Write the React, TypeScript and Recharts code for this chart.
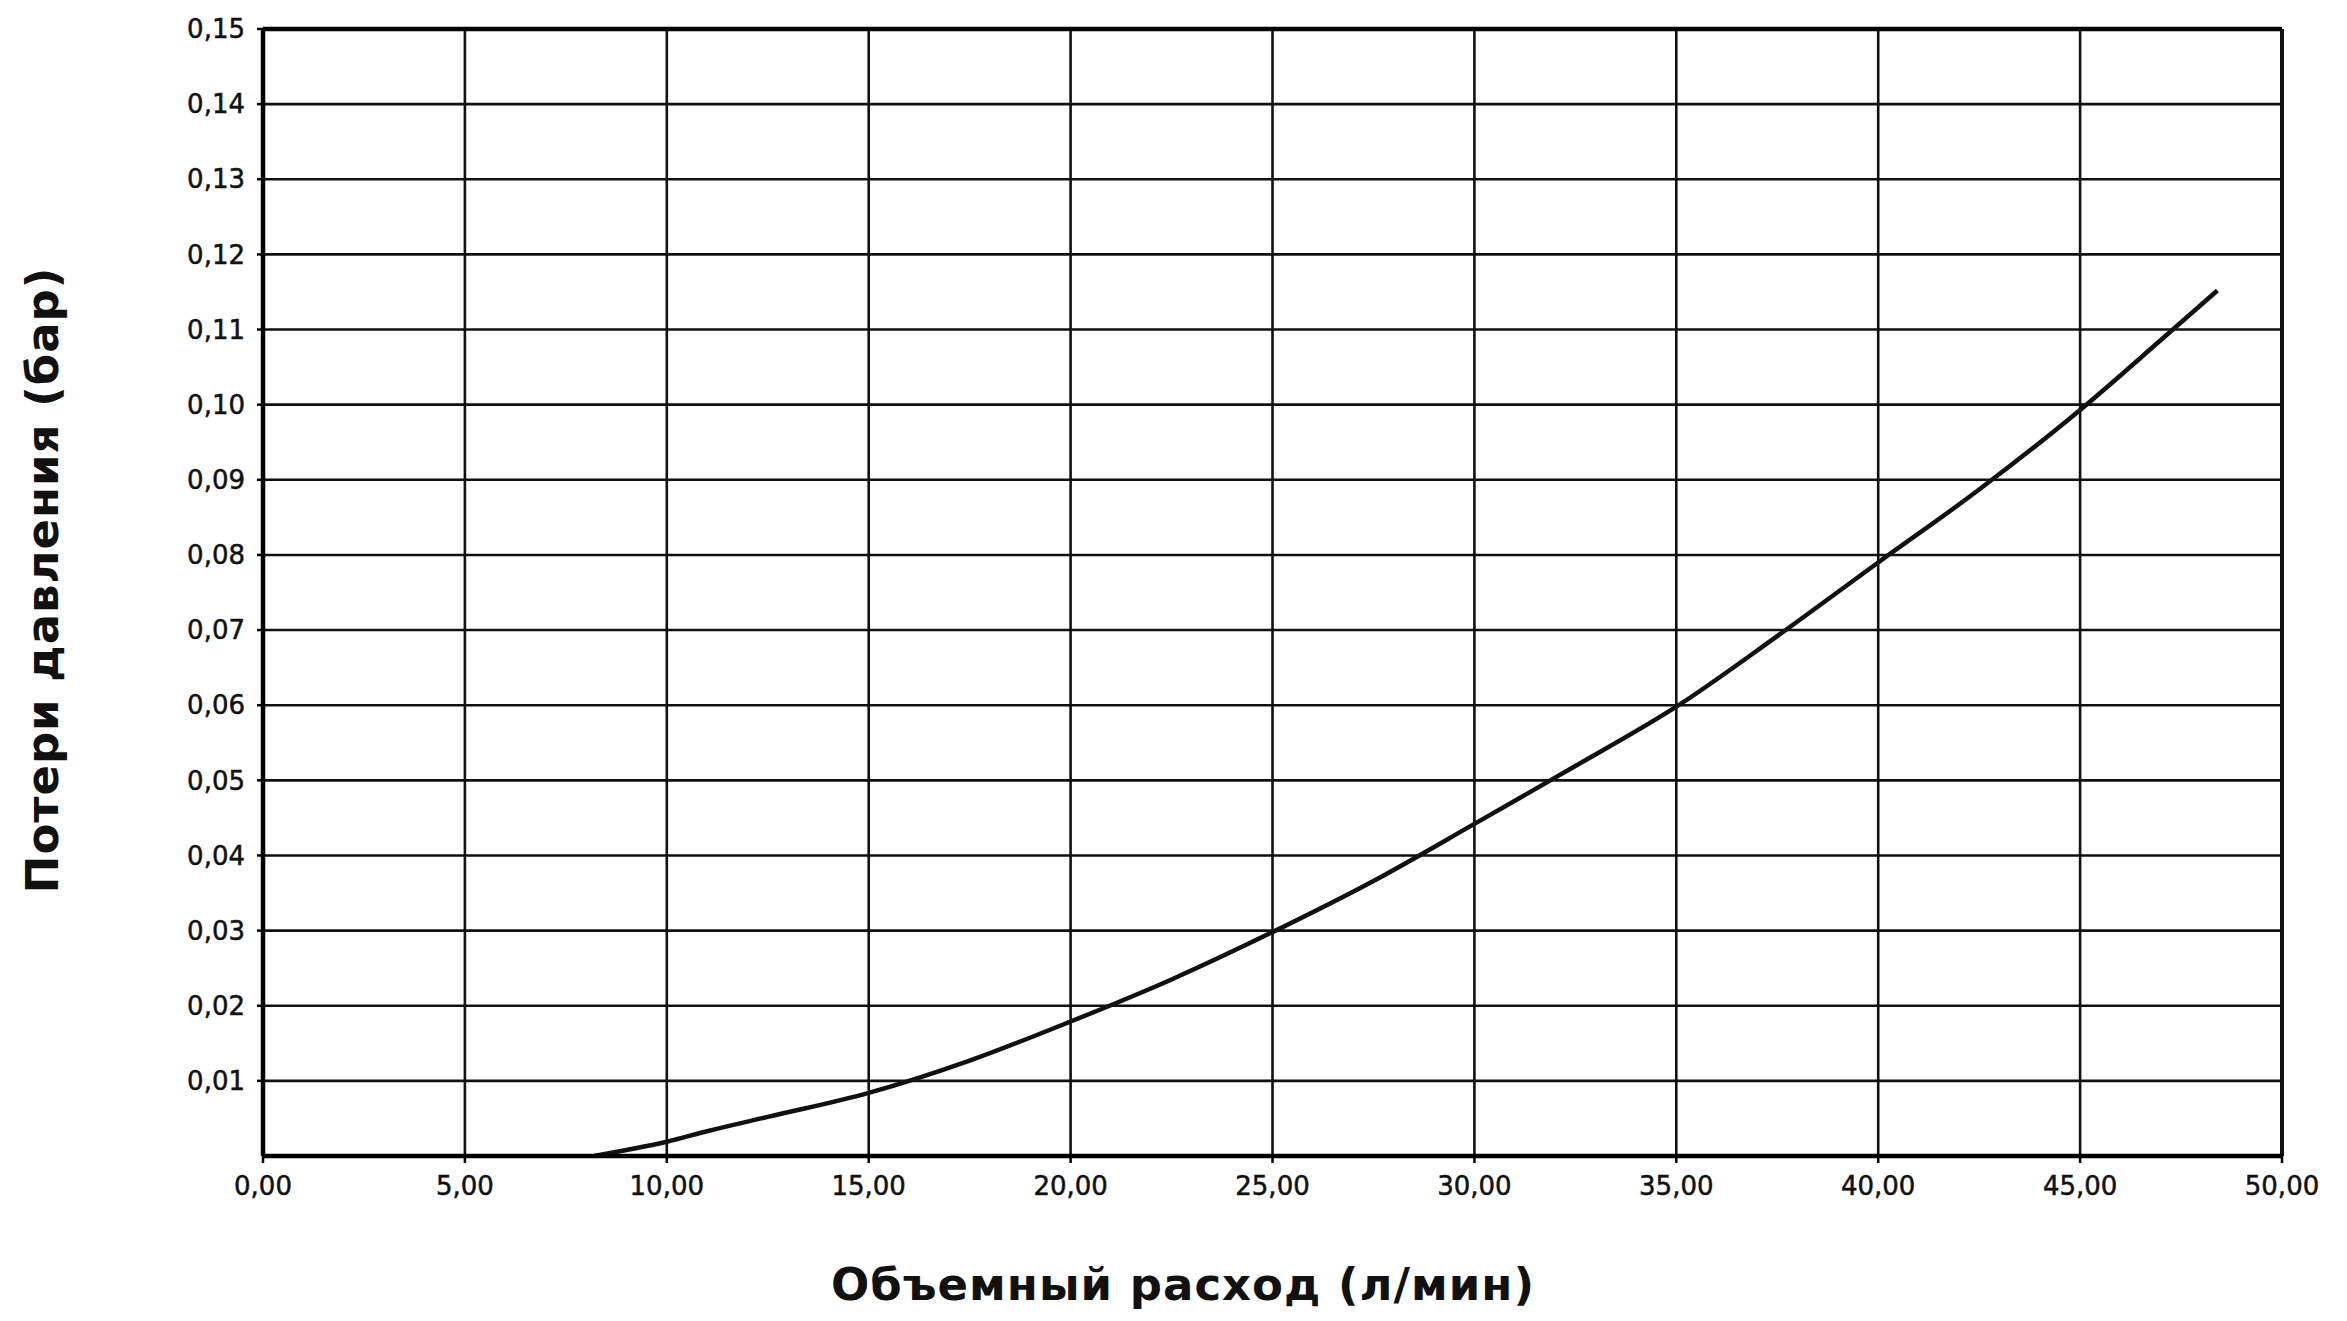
import { LineChart, Line, XAxis, YAxis, CartesianGrid, ReferenceLine, Label } from 'recharts'

const flowRate = [8.2, 9, 10, 11, 12.5, 15, 17.5, 20, 22.5, 25, 27.5, 30, 32.5, 35, 37.5, 40, 42.5, 45, 47, 48.4]
const pressureLoss = [
  0, 0.0008, 0.0019, 0.0033, 0.0052, 0.0084, 0.0127, 0.0179, 0.0235, 0.0298, 0.0366, 0.0442, 0.0519, 0.0598,
  0.0692, 0.079, 0.0887, 0.0993, 0.1086, 0.1152,
]
const xTicks = [0, 5, 10, 15, 20, 25, 30, 35, 40, 45, 50]
const yTicks = [0.01, 0.02, 0.03, 0.04, 0.05, 0.06, 0.07, 0.08, 0.09, 0.1, 0.11, 0.12, 0.13, 0.14, 0.15]

const xTitle = 'Объемный расход (л/мин)'
const yTitle = 'Потери давления (бар)'

const data = flowRate.map((q, i) => ({ q, dp: pressureLoss[i] }))
const comma = (v: number) => v.toFixed(2).replace('.', ',')

const tickStyle = { fontSize: 26, fill: '#111', stroke: '#111', strokeWidth: 0.5, fontFamily: 'DejaVu Sans' }
const titleStyle = { fontSize: 45, fontWeight: 'bold' as const, fill: '#111', fontFamily: 'DejaVu Sans', letterSpacing: 1 }

export default function App() {
  return (
    <div style={{ margin: -8, width: 2347, height: 1321, background: '#fff' }}>
      <LineChart width={2347} height={1321} data={data} margin={{ top: 29, right: 65, bottom: 0, left: 0 }}>
        <CartesianGrid stroke="#111" strokeWidth={2.6} horizontalValues={yTicks} verticalValues={xTicks} />
        <XAxis
          dataKey="q"
          type="number"
          domain={[0, 50]}
          ticks={xTicks}
          tickFormatter={comma}
          height={165}
          tick={tickStyle}
          tickSize={7}
          tickMargin={14}
          axisLine={{ stroke: '#000', strokeWidth: 4.5 }}
          tickLine={{ stroke: '#000', strokeWidth: 2.5 }}
        >
          <Label
            content={() => (
              <text x={1183} y={1300} textAnchor="middle" style={titleStyle}>
                {xTitle}
              </text>
            )}
          />
        </XAxis>
        <YAxis
          type="number"
          domain={[0, 0.15]}
          ticks={yTicks}
          tickFormatter={comma}
          width={263}
          tick={tickStyle}
          tickSize={6}
          tickMargin={12}
          axisLine={{ stroke: '#000', strokeWidth: 4.5 }}
          tickLine={{ stroke: '#000', strokeWidth: 2.5 }}
        >
          <Label
            content={() => (
              <text x={58} y={580} textAnchor="middle" transform="rotate(-90 58 580)" style={titleStyle}>
                {yTitle}
              </text>
            )}
          />
        </YAxis>
        <ReferenceLine y={0.15} stroke="#000" strokeWidth={4.5} />
        <ReferenceLine x={50} stroke="#111" strokeWidth={4} />
        <Line
          type="monotone"
          dataKey="dp"
          stroke="#111"
          strokeWidth={4.5}
          dot={false}
          isAnimationActive={false}
        />
      </LineChart>
    </div>
  )
}
